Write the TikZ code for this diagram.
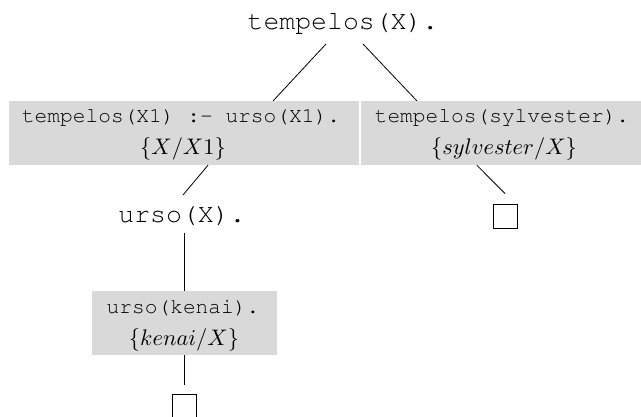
\documentclass[tikz,border=0pt]{standalone}
\usepackage{graphicx}
\usepackage{fontspec}
\setmonofont{Liberation Mono}
\newcommand{\courierfont}{\fontencoding{T1}\fontfamily{pcr}\fontseries{m}\fontshape{n}\selectfont}
\definecolor{boxgray}{RGB}{217,217,217}
\newcommand{\bigmath}[1]{\scalebox{2.25}{$#1$}}
\tikzset{
  subst/.style={fill=boxgray, draw=none, inner sep=0pt, minimum height=64pt},
  boxtxt/.style={anchor=base, inner sep=0pt, font=\fontsize{21.2}{25}\courierfont},
  boxmath/.style={anchor=base, inner sep=0pt},
  goal/.style={anchor=base, inner sep=0pt, font=\fontsize{26.5}{30}\courierfont},
  emptybox/.style={draw=black, line width=0.9pt, minimum width=24pt, minimum height=24pt, inner sep=0pt},
  edge/.style={draw=black, line width=0.8pt}
}
\begin{document}
\begin{tikzpicture}[x=1pt, y=-1pt]
\useasboundingbox (0,0) rectangle (641,417);
% goals
\node[goal] (top) at (343,30) {tempelos(X).};
\node[goal] (urso) at (182,223) {urso(X).};
% substitution boxes
\node[subst, minimum width=350pt] (b1) at (184,133) {};
\node[boxtxt] (b1t) at (181,123) {tempelos(X1) :- urso(X1).};
\node[boxmath] (b1m) at (183,155) {\bigmath{\{X/X1\}}};
\node[subst, minimum width=280pt] (b2) at (501,133) {};
\node[boxtxt] (b2t) at (502,123) {tempelos(sylvester).};
\node[boxmath] (b2m) at (504,155) {\bigmath{\{sylvester/X\}}};
\node[subst, minimum width=185pt] (b3) at (184,323) {};
\node[boxtxt] (b3t) at (183,313) {urso(kenai).};
\node[boxmath] (b3m) at (184,345) {\bigmath{\{kenai/X\}}};
% empty clauses
\node[emptybox] (sq1) at (184,406) {};
\node[emptybox] (sq2) at (505,216) {};
% edges
\draw[edge] ([shift={(-17,14)}]top.base) -- ([shift={(-86,0)}]b1.north east);
\draw[edge] ([shift={(20,14)}]top.base) -- ([shift={(56,0)}]b2.north west);
\draw[edge] ([shift={(24,0)}]b1.south) -- ([shift={(1,-28)}]urso.base);
\draw[edge] ([shift={(2,10)}]urso.base) -- (b3.north);
\draw[edge] (b3.south) -- ([shift={(0,-9)}]sq1.north);
\draw[edge] ([shift={(116,0)}]b2.south west) -- ([shift={(0,-10)}]sq2.north);
\end{tikzpicture}
\end{document}
